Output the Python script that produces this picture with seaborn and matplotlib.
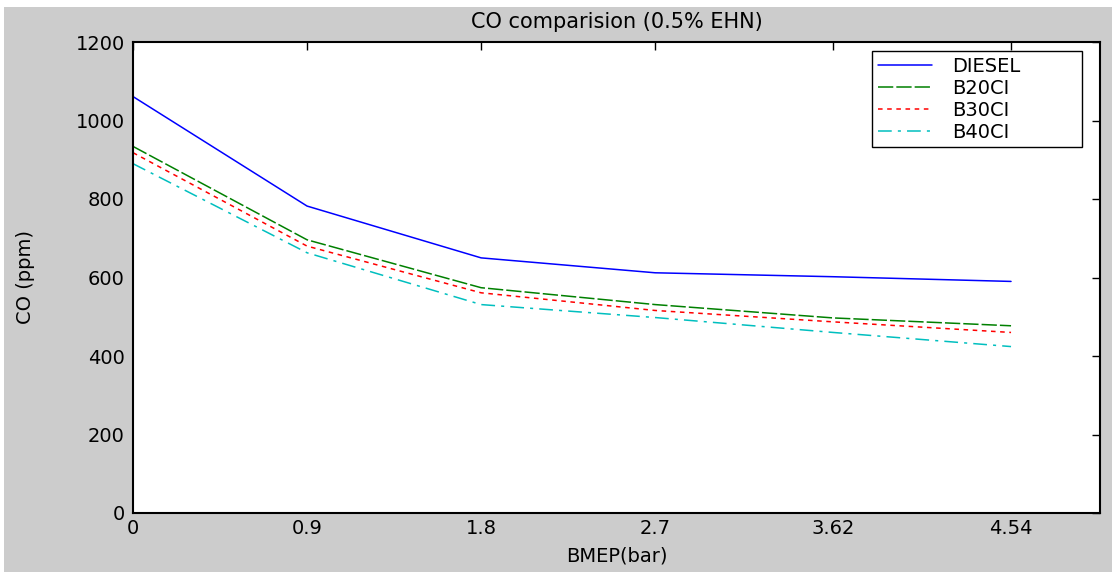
import numpy as np
import pandas as pd
import matplotlib
matplotlib.use("Agg")
import matplotlib.pyplot as plt
import seaborn as sns
from matplotlib.patches import Rectangle

# data
bmep = [0, 0.9, 1.8, 2.7, 3.62, 4.54]
diesel = [1061, 782, 650, 612, 602, 590]
b20ci = [934, 696, 574, 531, 497, 477]
b30ci = [918, 680, 561, 516, 487, 460]
b40ci = [890, 663, 531, 498, 460, 424]
fuels = ["DIESEL", "B20CI", "B30CI", "B40CI"]
xticks = [0, 0.9, 1.8, 2.7, 3.62, 4.54]
yticks = [0, 200, 400, 600, 800, 1000, 1200]

df = pd.DataFrame({
    "BMEP": bmep * 4,
    "CO": diesel + b20ci + b30ci + b40ci,
    "fuel": np.repeat(fuels, len(bmep)),
})

sns.set_style("white")
plt.rcParams["font.family"] = ["DejaVu Sans"]
plt.rcParams["text.color"] = "black"
plt.rcParams["axes.labelcolor"] = "black"

W, H = 1112, 572
fig = plt.figure(figsize=(W / 100, H / 100), dpi=100)
fig.patch.set_facecolor("white")
# grey figure panel (white strip on top/left in the reference)
fig.patches.append(Rectangle((4 / W, 0), 1, 1 - 7 / H, transform=fig.transFigure,
                             facecolor="#cccccc", edgecolor="none", zorder=-10))

ax = fig.add_axes([133 / W, 1 - 513 / H, (1100 - 133) / W, (513 - 42) / H])
ax.set_facecolor("white")

palette = {"DIESEL": "#0000ff", "B20CI": "#008000", "B30CI": "#ff0000", "B40CI": "#00bfbf"}
dashes = {"DIESEL": "", "B20CI": (10, 2), "B30CI": (3, 3), "B40CI": (9, 4, 2, 4)}
sns.lineplot(data=df, x="BMEP", y="CO", hue="fuel", style="fuel",
             palette=palette, dashes=dashes, linewidth=1.1, ax=ax,
             hue_order=fuels, style_order=fuels)

ax.set_xlim(0, 5)
ax.set_ylim(0, 1200)
ax.set_xticks(xticks)
ax.set_xticklabels([f"{t:g}" for t in xticks])
ax.set_yticks(yticks)
ax.tick_params(direction="in", length=6, width=1, top=True, right=True,
               labelsize=14, colors="black", pad=6)
ax.tick_params(axis="x", labeltop=False, pad=4)
ax.tick_params(axis="y", labelright=False)
for s in ax.spines.values():
    s.set_visible(True)
    s.set_color("black")
    s.set_linewidth(1.5)

ax.set_title("CO comparision (0.5% EHN)", fontsize=15, pad=10)
ax.set_xlabel("BMEP(bar)", fontsize=14)
ax.set_ylabel("CO (ppm)", fontsize=14)
ax.xaxis.set_label_coords(0.5, -(546 - 513) / 471)
ax.yaxis.set_label_coords(-(133 - 35) / 967, 0.5)

# legend box spans x 872..1082, top at y 51 in the reference
leg_top = 1 - (51 - 42) / 471
leg = ax.legend(loc="upper left",
                bbox_to_anchor=((872 - 133) / 967, leg_top - 0.1, 210 / 967, 0.1),
                mode="expand", borderaxespad=0, fontsize=14, frameon=True,
                fancybox=False, handlelength=2.8, borderpad=0.3,
                labelspacing=0.15, handletextpad=1.0)
leg.get_frame().set_edgecolor("black")
leg.get_frame().set_linewidth(1.0)
leg.get_frame().set_alpha(1)

fig.savefig("out.png", dpi=100, facecolor=fig.get_facecolor())
